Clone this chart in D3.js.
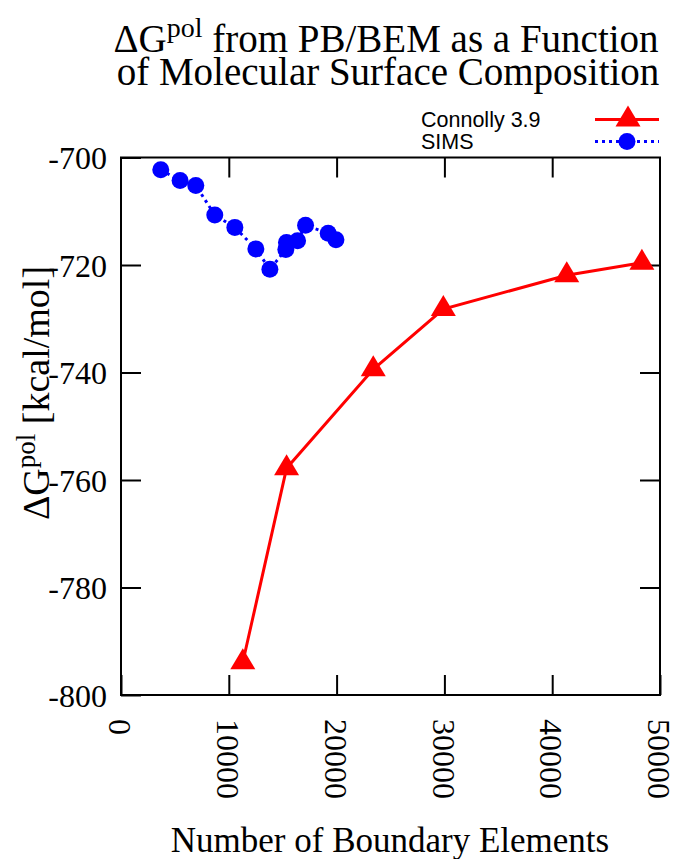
<!DOCTYPE html>
<html>
<head>
<meta charset="utf-8">
<script src="https://cdn.jsdelivr.net/npm/d3@7"></script>
<style>
  body { margin: 0; background: #fff; }
  svg { display: block; }
</style>
</head>
<body>
<svg id="chart" width="676" height="859"></svg>
<script>
// data
var connollyX = [11300, 15360, 23400, 29900, 41350, 48320];
var connollyY = [-793.9, -757.8, -739.4, -728.2, -721.9, -719.6];

var simsX = [3690, 5480, 6940, 8700, 10560, 12510, 13810, 15290, 15350, 16380, 17120, 19220, 19940];
var simsY = [-702.3, -704.3, -705.2, -710.7, -713.0, -717.0, -720.8, -717.1, -715.8, -715.5, -712.6, -714.1, -715.3];

var xTicks = [0, 10000, 20000, 30000, 40000, 50000];
var yTicks = [-800, -780, -760, -740, -720, -700];
var seriesNames = ["Connolly 3.9", "SIMS"];

var margin = {top: 157.5, right: 16, bottom: 164, left: 121},
    width = 676 - margin.left - margin.right,
    height = 859 - margin.top - margin.bottom;

var svg = d3.select("#chart");
var g = svg.append("g")
    .attr("transform", "translate(" + margin.left + "," + margin.top + ")");

var x = d3.scaleLinear().domain([0, 50000]).range([0, width]);
var y = d3.scaleLinear().domain([-800, -700]).range([height, 0]);

var serif = "'Liberation Serif', 'Times New Roman', serif";
var sans = "'Liberation Sans', Arial, sans-serif";
var plain = function(d) { return String(d); };   // gnuplot style: "-700", "10000"

// axes, ticks pointing inward like gnuplot
var xAxis = g.append("g")
    .attr("transform", "translate(0," + height + ")")
    .call(d3.axisBottom(x).tickValues(xTicks).tickFormat(plain).tickSize(-20).tickSizeOuter(0));
xAxis.selectAll("text")
    .attr("transform", "translate(-1,24) rotate(90)")
    .attr("x", 0).attr("y", 0).attr("dy", "0.35em")
    .style("text-anchor", "start");

var yAxis = g.append("g")
    .call(d3.axisLeft(y).tickValues(yTicks).tickFormat(plain).tickSize(-20).tickSizeOuter(0).tickPadding(14));
yAxis.selectAll("text").attr("dy", "0.35em");

g.append("g")
    .call(d3.axisTop(x).tickValues(xTicks.slice(1, -1)).tickSize(-20).tickFormat(""));
g.append("g")
    .attr("transform", "translate(" + width + ",0)")
    .call(d3.axisRight(y).tickValues(yTicks.slice(1, -1)).tickSize(-20).tickFormat(""));

g.selectAll(".domain").remove();
g.selectAll(".tick line").attr("stroke", "#000").attr("stroke-width", 2);
g.selectAll(".tick text")
    .attr("fill", "#000")
    .style("font-family", serif)
    .style("font-size", "32px");

g.append("rect")
    .attr("width", width).attr("height", height)
    .attr("fill", "none").attr("stroke", "#000").attr("stroke-width", 2);

// series
var connolly = connollyX.map(function(d, i) { return [d, connollyY[i]]; });
var sims = simsX.map(function(d, i) { return [d, simsY[i]]; });

var line = d3.line()
    .x(function(d) { return x(d[0]); })
    .y(function(d) { return y(d[1]); });

var tri = "M0,-14L12.5,7L-12.5,7Z";

g.append("path")
    .datum(sims)
    .attr("d", line)
    .attr("fill", "none")
    .attr("stroke", "#0000ff")
    .attr("stroke-width", 3)
    .attr("stroke-dasharray", "3,4");

g.selectAll(".sims")
    .data(sims)
    .enter()
    .append("circle")
        .attr("cx", function(d) { return x(d[0]); })
        .attr("cy", function(d) { return y(d[1]); })
        .attr("r", 8.5)
        .attr("fill", "#0000ff");

g.append("path")
    .datum(connolly)
    .attr("d", line)
    .attr("fill", "none")
    .attr("stroke", "#ff0000")
    .attr("stroke-width", 3);

g.selectAll(".conn")
    .data(connolly)
    .enter()
    .append("path")
        .attr("d", tri)
        .attr("transform", function(d) { return "translate(" + x(d[0]) + "," + y(d[1]) + ")"; })
        .attr("fill", "#ff0000");

// legend
var legend = svg.append("g");
var legendY = [119.5, 141.5];
legend.selectAll("text")
    .data(seriesNames)
    .enter()
    .append("text")
        .attr("x", 421)
        .attr("y", function(d, i) { return legendY[i] + 7.5; })
        .style("font-family", sans)
        .style("font-size", "21.5px")
        .text(function(d) { return d; });

legend.append("line")
    .attr("x1", 595).attr("x2", 659)
    .attr("y1", legendY[0]).attr("y2", legendY[0])
    .attr("stroke", "#ff0000").attr("stroke-width", 3);
legend.append("path")
    .attr("d", tri)
    .attr("transform", "translate(628," + legendY[0] + ")")
    .attr("fill", "#ff0000");
legend.append("line")
    .attr("x1", 595).attr("x2", 659)
    .attr("y1", legendY[1]).attr("y2", legendY[1])
    .attr("stroke", "#0000ff").attr("stroke-width", 3)
    .attr("stroke-dasharray", "3,4");
legend.append("circle")
    .attr("cx", 627).attr("cy", legendY[1]).attr("r", 8.5)
    .attr("fill", "#0000ff");

// title
var title = svg.append("text")
    .attr("x", 386).attr("y", 52)
    .attr("text-anchor", "middle")
    .style("font-family", serif)
    .style("font-size", "39px");
title.append("tspan").text("\u0394G");
title.append("tspan").attr("dy", -15).style("font-size", "28px").text("pol");
title.append("tspan").attr("dy", 15).text(" from PB/BEM as a Function");

svg.append("text")
    .attr("x", 388).attr("y", 85)
    .attr("text-anchor", "middle")
    .style("font-family", serif)
    .style("font-size", "39px")
    .text("of Molecular Surface Composition");

// axis titles
svg.append("text")
    .attr("x", 390).attr("y", 852)
    .attr("text-anchor", "middle")
    .style("font-family", serif)
    .style("font-size", "35px")
    .text("Number of Boundary Elements");

var ylab = svg.append("text")
    .attr("transform", "translate(49,393) rotate(-90)")
    .attr("text-anchor", "middle")
    .style("font-family", serif)
    .style("font-size", "38px");
ylab.append("tspan").text("\u0394G");
ylab.append("tspan").attr("dy", -14).style("font-size", "27px").text("pol");
ylab.append("tspan").attr("dy", 14).text(" [kcal/mol]");
</script>
</body>
</html>
